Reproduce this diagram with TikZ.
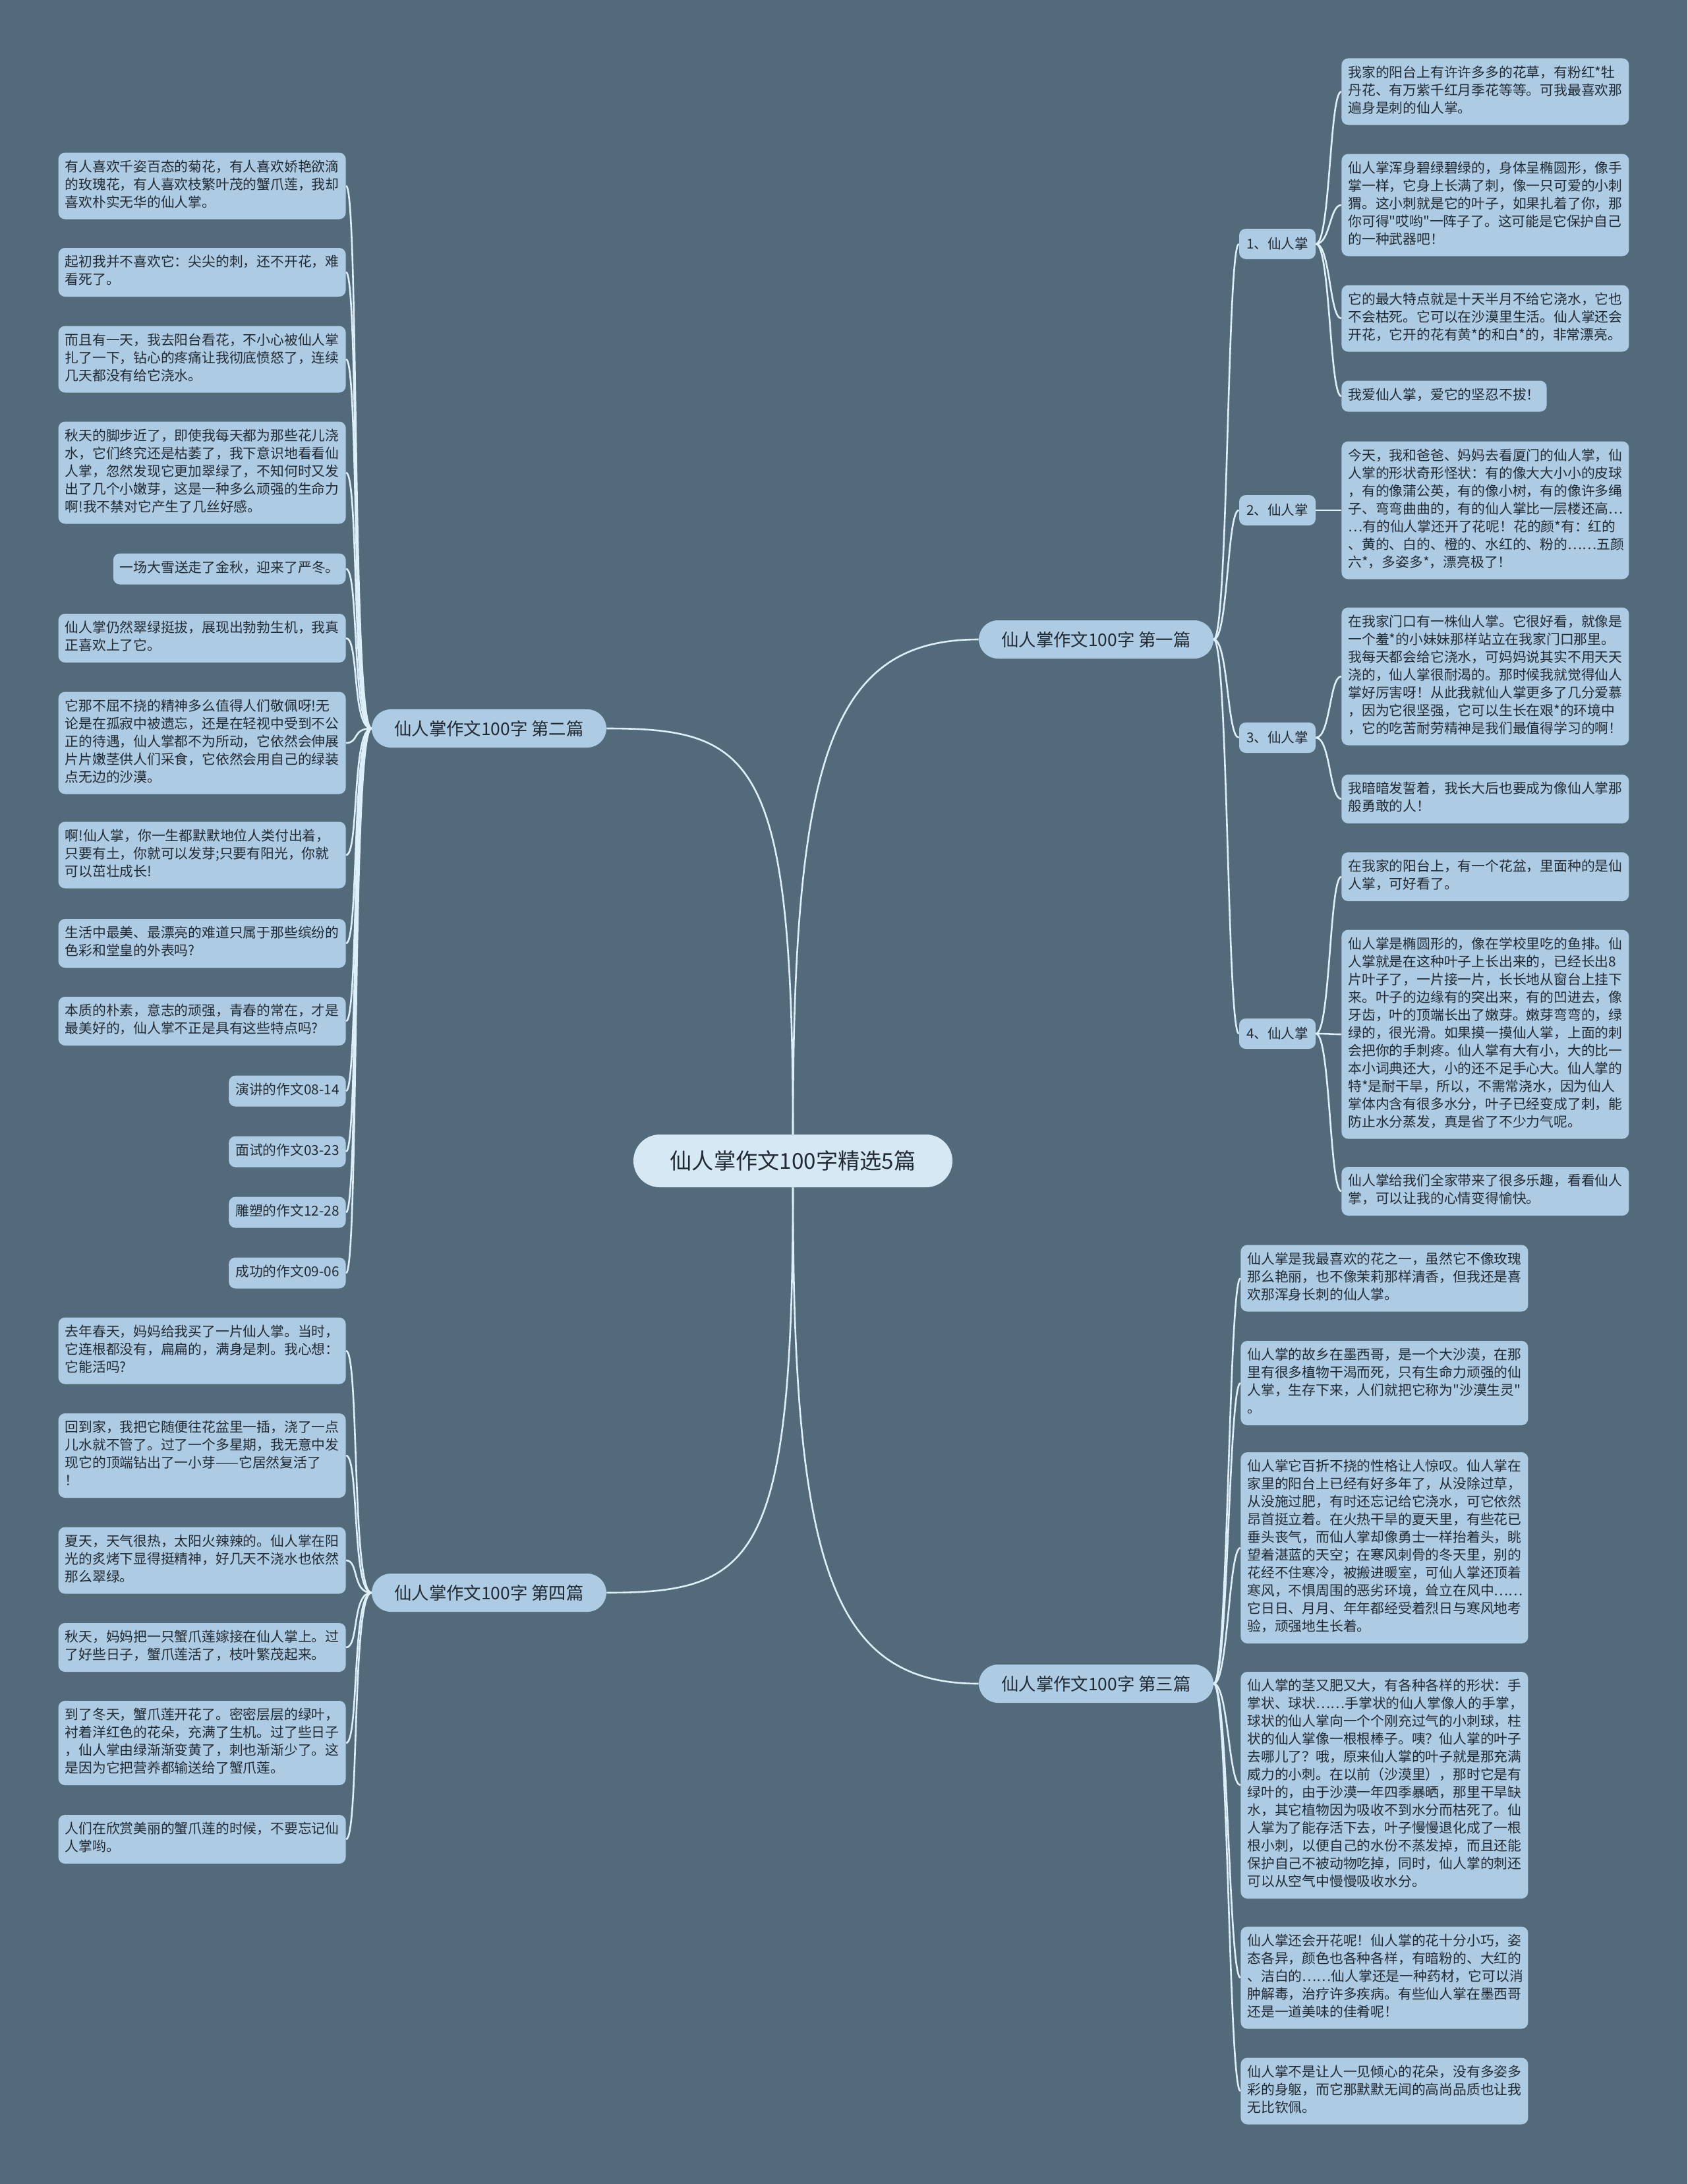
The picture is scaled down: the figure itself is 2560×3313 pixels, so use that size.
\documentclass[tikz,border=0pt]{standalone}
\usepackage{fontspec}
\setmainfont{Noto Sans CJK SC}[Ligatures=TeXOff]
\definecolor{bgc}{HTML}{536A7B}
\definecolor{boxc}{HTML}{ADCBE3}
\definecolor{hubc}{HTML}{D5E8F4}
\definecolor{linec}{HTML}{DDEFF8}
\definecolor{txtc}{HTML}{222B33}
\begin{document}
\begin{tikzpicture}[x=0.5pt,y=-0.5pt,
  hub/.style={rounded corners=20pt, fill=hubc, text=txtc, minimum width=242pt, minimum height=40pt, font=\fontsize{16.6}{20}\selectfont, inner sep=0pt},
  grp/.style={rounded corners=14.5pt, fill=boxc, text=txtc, minimum width=178pt, minimum height=29pt, font=\fontsize{13.2}{16}\selectfont, inner sep=0pt},
  sub/.style={rounded corners=5pt, fill=boxc, text=txtc, minimum width=58pt, minimum height=23pt, font=\fontsize{10.3}{13}\selectfont, inner sep=0pt},
  leaf/.style={rounded corners=5pt, fill=boxc, text=txtc, font=\fontsize{10.4}{13.5}\selectfont, inner xsep=5pt, inner ysep=5pt, text height=9.45pt, text depth=4.05pt},
  wide/.style={rounded corners=5pt, fill=boxc, text=txtc, font=\fontsize{10.4}{13.5}\selectfont, inner xsep=5pt, inner ysep=5pt, text width=208pt, align=left, execute at begin node=\strut, execute at end node=\strut},
  e/.style={draw=linec, line width=1.3pt},
  lb/.style={to path={.. controls +(-30,0) and +(20,0) .. (\tikztotarget) \tikztonodes}},
  rb/.style={to path={.. controls +(22,0) and +(-18,0) .. (\tikztotarget) \tikztonodes}}]
\useasboundingbox (0,0) rectangle (2560,3313);
\fill[bgc] (0,0) rectangle (2560,3313);
% centre and the four essays
\node[hub] (c) at (1203,1761) {仙人掌作文100字精选5篇};
\node[grp] (g1) at (1663,970) {仙人掌作文100字 第一篇};
\node[grp] (g2) at (742,1105) {仙人掌作文100字 第二篇};
\node[grp] (g3) at (1663,2554) {仙人掌作文100字 第三篇};
\node[grp] (g4) at (742,2416) {仙人掌作文100字 第四篇};
\draw[e] (c.north) .. controls (1203,1150) and (1260,970) .. (g1.west);
\draw[e] (c.north) .. controls (1203,1150) and (1145,1105) .. (g2.east);
\draw[e] (c.south) .. controls (1203,2370) and (1260,2554) .. (g3.west);
\draw[e] (c.south) .. controls (1203,2370) and (1145,2416) .. (g4.east);
% first essay
\node[sub] (s1) at (1938,370) {1、仙人掌};
\node[sub] (s2) at (1938,774) {2、仙人掌};
\node[sub] (s3) at (1938,1119) {3、仙人掌};
\node[sub] (s4) at (1938,1568) {4、仙人掌};
\node[wide, anchor=west] (r1a) at (2035,139) {我家的阳台上有许许多多的花草，有粉红*牡\\丹花、有万紫千红月季花等等。可我最喜欢那\\遍身是刺的仙人掌。};
\node[wide, anchor=west] (r1b) at (2035,311) {仙人掌浑身碧绿碧绿的，身体呈椭圆形，像手\\掌一样，它身上长满了刺，像一只可爱的小刺\\猬。这小刺就是它的叶子，如果扎着了你，那\\你可得"哎哟"一阵子了。这可能是它保护自己\\的一种武器吧！};
\node[wide, anchor=west] (r1c) at (2035,483) {它的最大特点就是十天半月不给它浇水，它也\\不会枯死。它可以在沙漠里生活。仙人掌还会\\开花，它开的花有黄*的和白*的，非常漂亮。};
\node[leaf, anchor=west] (r1d) at (2035,601) {我爱仙人掌，爱它的坚忍不拔！};
\node[wide, anchor=west] (r2a) at (2035,774) {今天，我和爸爸、妈妈去看厦门的仙人掌，仙\\人掌的形状奇形怪状：有的像大大小小的皮球\\，有的像蒲公英，有的像小树，有的像许多绳\\子、弯弯曲曲的，有的仙人掌比一层楼还高…\\…有的仙人掌还开了花呢！花的颜*有：红的\\、黄的、白的、橙的、水红的、粉的……五颜\\六*，多姿多*，漂亮极了！};
\node[wide, anchor=west] (r3a) at (2035,1026) {在我家门口有一株仙人掌。它很好看，就像是\\一个羞*的小妹妹那样站立在我家门口那里。\\我每天都会给它浇水，可妈妈说其实不用天天\\浇的，仙人掌很耐渴的。那时候我就觉得仙人\\掌好厉害呀！从此我就仙人掌更多了几分爱慕\\，因为它很坚强，它可以生长在艰*的环境中\\，它的吃苦耐劳精神是我们最值得学习的啊！};
\node[wide, anchor=west] (r3b) at (2035,1212) {我暗暗发誓着，我长大后也要成为像仙人掌那\\般勇敢的人！};
\node[wide, anchor=west] (r4a) at (2035,1330) {在我家的阳台上，有一个花盆，里面种的是仙\\人掌，可好看了。};
\node[wide, anchor=west] (r4b) at (2035,1569) {仙人掌是椭圆形的，像在学校里吃的鱼排。仙\\人掌就是在这种叶子上长出来的，已经长出8\\片叶子了，一片接一片，长长地从窗台上挂下\\来。叶子的边缘有的突出来，有的凹进去，像\\牙齿，叶的顶端长出了嫩芽。嫩芽弯弯的，绿\\绿的，很光滑。如果摸一摸仙人掌，上面的刺\\会把你的手刺疼。仙人掌有大有小，大的比一\\本小词典还大，小的还不足手心大。仙人掌的\\特*是耐干旱，所以，不需常浇水，因为仙人\\掌体内含有很多水分，叶子已经变成了刺，能\\防止水分蒸发，真是省了不少力气呢。};
\node[wide, anchor=west] (r4c) at (2035,1807) {仙人掌给我们全家带来了很多乐趣，看看仙人\\掌，可以让我的心情变得愉快。};
\draw[e] (g1.east) to[rb] (s1.west);
\draw[e] (g1.east) to[rb] (s2.west);
\draw[e] (g1.east) to[rb] (s3.west);
\draw[e] (g1.east) to[rb] (s4.west);
\draw[e] (s1.east) to[rb] (r1a.west);
\draw[e] (s1.east) to[rb] (r1b.west);
\draw[e] (s1.east) to[rb] (r1c.west);
\draw[e] (s1.east) to[rb] (r1d.west);
\draw[e] (s2.east) to[rb] (r2a.west);
\draw[e] (s3.east) to[rb] (r3a.west);
\draw[e] (s3.east) to[rb] (r3b.west);
\draw[e] (s4.east) to[rb] (r4a.west);
\draw[e] (s4.east) to[rb] (r4b.west);
\draw[e] (s4.east) to[rb] (r4c.west);
% second essay
\node[wide, anchor=east] (l1) at (525,282) {有人喜欢千姿百态的菊花，有人喜欢娇艳欲滴\\的玫瑰花，有人喜欢枝繁叶茂的蟹爪莲，我却\\喜欢朴实无华的仙人掌。};
\node[wide, anchor=east] (l2) at (525,413) {起初我并不喜欢它：尖尖的刺，还不开花，难\\看死了。};
\node[wide, anchor=east] (l3) at (525,545) {而且有一天，我去阳台看花，不小心被仙人掌\\扎了一下，钻心的疼痛让我彻底愤怒了，连续\\几天都没有给它浇水。};
\node[wide, anchor=east] (l4) at (525,717) {秋天的脚步近了，即使我每天都为那些花儿浇\\水，它们终究还是枯萎了，我下意识地看看仙\\人掌，忽然发现它更加翠绿了，不知何时又发\\出了几个小嫩芽，这是一种多么顽强的生命力\\啊!我不禁对它产生了几丝好感。};
\node[leaf, anchor=east] (l5) at (525,863) {一场大雪送走了金秋，迎来了严冬。};
\node[wide, anchor=east] (l6) at (525,968) {仙人掌仍然翠绿挺拔，展现出勃勃生机，我真\\正喜欢上了它。};
\node[wide, anchor=east] (l7) at (525,1127) {它那不屈不挠的精神多么值得人们敬佩呀!无\\论是在孤寂中被遗忘，还是在轻视中受到不公\\正的待遇，仙人掌都不为所动，它依然会伸展\\片片嫩茎供人们采食，它依然会用自己的绿装\\点无边的沙漠。};
\node[wide, anchor=east] (l8) at (525,1297) {啊!仙人掌，你一生都默默地位人类付出着，\\只要有土，你就可以发芽;只要有阳光，你就\\可以茁壮成长!};
\node[wide, anchor=east] (l9) at (525,1431) {生活中最美、最漂亮的难道只属于那些缤纷的\\色彩和堂皇的外表吗?};
\node[wide, anchor=east] (l10) at (525,1549) {本质的朴素，意志的顽强，青春的常在，才是\\最美好的，仙人掌不正是具有这些特点吗?};
\node[leaf, anchor=east] (l11) at (525,1655) {演讲的作文08-14};
\node[leaf, anchor=east] (l12) at (525,1747) {面试的作文03-23};
\node[leaf, anchor=east] (l13) at (525,1839) {雕塑的作文12-28};
\node[leaf, anchor=east] (l14) at (525,1931) {成功的作文09-06};
\draw[e] (g2.west) to[lb] (l1.east);
\draw[e] (g2.west) to[lb] (l2.east);
\draw[e] (g2.west) to[lb] (l3.east);
\draw[e] (g2.west) to[lb] (l4.east);
\draw[e] (g2.west) to[lb] (l5.east);
\draw[e] (g2.west) to[lb] (l6.east);
\draw[e] (g2.west) to[lb] (l7.east);
\draw[e] (g2.west) to[lb] (l8.east);
\draw[e] (g2.west) to[lb] (l9.east);
\draw[e] (g2.west) to[lb] (l10.east);
\draw[e] (g2.west) to[lb] (l11.east);
\draw[e] (g2.west) to[lb] (l12.east);
\draw[e] (g2.west) to[lb] (l13.east);
\draw[e] (g2.west) to[lb] (l14.east);
% third essay
\node[wide, anchor=west] (t1) at (1882,1939) {仙人掌是我最喜欢的花之一，虽然它不像玫瑰\\那么艳丽，也不像茉莉那样清香，但我还是喜\\欢那浑身长刺的仙人掌。};
\node[wide, anchor=west] (t2) at (1882,2098) {仙人掌的故乡在墨西哥，是一个大沙漠，在那\\里有很多植物干渴而死，只有生命力顽强的仙\\人掌，生存下来，人们就把它称为"沙漠生灵"\\。};
\node[wide, anchor=west] (t3) at (1882,2348) {仙人掌它百折不挠的性格让人惊叹。仙人掌在\\家里的阳台上已经有好多年了，从没除过草，\\从没施过肥，有时还忘记给它浇水，可它依然\\昂首挺立着。在火热干旱的夏天里，有些花已\\垂头丧气，而仙人掌却像勇士一样抬着头，眺\\望着湛蓝的天空；在寒风刺骨的冬天里，别的\\花经不住寒冷，被搬进暖室，可仙人掌还顶着\\寒风，不惧周围的恶劣环境，耸立在风中……\\它日日、月月、年年都经受着烈日与寒风地考\\验，顽强地生长着。};
\node[wide, anchor=west] (t4) at (1882,2708) {仙人掌的茎又肥又大，有各种各样的形状：手\\掌状、球状……手掌状的仙人掌像人的手掌，\\球状的仙人掌向一个个刚充过气的小刺球，柱\\状的仙人掌像一根根棒子。咦？仙人掌的叶子\\去哪儿了？哦，原来仙人掌的叶子就是那充满\\威力的小刺。在以前（沙漠里），那时它是有\\绿叶的，由于沙漠一年四季暴晒，那里干旱缺\\水，其它植物因为吸收不到水分而枯死了。仙\\人掌为了能存活下去，叶子慢慢退化成了一根\\根小刺，以便自己的水份不蒸发掉，而且还能\\保护自己不被动物吃掉，同时，仙人掌的刺还\\可以从空气中慢慢吸收水分。};
\node[wide, anchor=west] (t5) at (1882,3000) {仙人掌还会开花呢！仙人掌的花十分小巧，姿\\态各异，颜色也各种各样，有暗粉的、大红的\\、洁白的……仙人掌还是一种药材，它可以消\\肿解毒，治疗许多疾病。有些仙人掌在墨西哥\\还是一道美味的佳肴呢！};
\node[wide, anchor=west] (t6) at (1882,3172) {仙人掌不是让人一见倾心的花朵，没有多姿多\\彩的身躯，而它那默默无闻的高尚品质也让我\\无比钦佩。};
\draw[e] (g3.east) to[rb] (t1.west);
\draw[e] (g3.east) to[rb] (t2.west);
\draw[e] (g3.east) to[rb] (t3.west);
\draw[e] (g3.east) to[rb] (t4.west);
\draw[e] (g3.east) to[rb] (t5.west);
\draw[e] (g3.east) to[rb] (t6.west);
% fourth essay
\node[wide, anchor=east] (f1) at (525,2049) {去年春天，妈妈给我买了一片仙人掌。当时，\\它连根都没有，扁扁的，满身是刺。我心想：\\它能活吗?};
\node[wide, anchor=east] (f2) at (525,2208) {回到家，我把它随便往花盆里一插，浇了一点\\儿水就不管了。过了一个多星期，我无意中发\\现它的顶端钻出了一小芽——它居然复活了\\！};
\node[wide, anchor=east] (f3) at (525,2367) {夏天，天气很热，太阳火辣辣的。仙人掌在阳\\光的炙烤下显得挺精神，好几天不浇水也依然\\那么翠绿。};
\node[wide, anchor=east] (f4) at (525,2499) {秋天，妈妈把一只蟹爪莲嫁接在仙人掌上。过\\了好些日子，蟹爪莲活了，枝叶繁茂起来。};
\node[wide, anchor=east] (f5) at (525,2644) {到了冬天，蟹爪莲开花了。密密层层的绿叶，\\衬着洋红色的花朵，充满了生机。过了些日子\\，仙人掌由绿渐渐变黄了，刺也渐渐少了。这\\是因为它把营养都输送给了蟹爪莲。};
\node[wide, anchor=east] (f6) at (525,2790) {人们在欣赏美丽的蟹爪莲的时候，不要忘记仙\\人掌哟。};
\draw[e] (g4.west) to[lb] (f1.east);
\draw[e] (g4.west) to[lb] (f2.east);
\draw[e] (g4.west) to[lb] (f3.east);
\draw[e] (g4.west) to[lb] (f4.east);
\draw[e] (g4.west) to[lb] (f5.east);
\draw[e] (g4.west) to[lb] (f6.east);
\end{tikzpicture}
\end{document}
